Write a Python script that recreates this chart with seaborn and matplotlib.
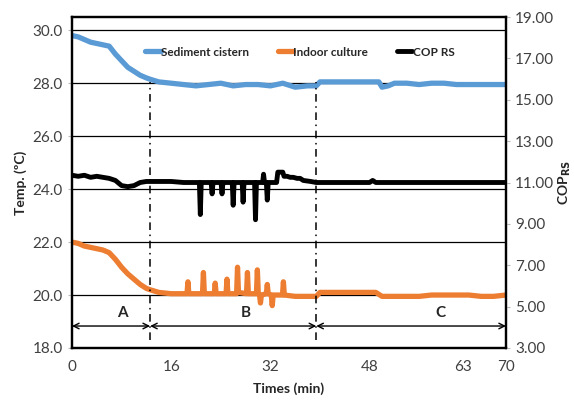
import numpy as np
import pandas as pd
import seaborn as sns
import matplotlib.pyplot as plt

# sediment cistern temperature (left axis)
sed_t = [0, 1, 2, 3, 4, 5, 6, 7, 8, 9, 10, 11, 12, 12.6, 14, 16, 18, 20, 22, 24, 26, 28, 30, 32, 34, 36, 38, 39.4,
         40, 42, 44, 46, 48, 49.5, 50, 51, 52, 54, 56, 58, 60, 62, 64, 66, 68, 70]
sed_v = [29.8, 29.75, 29.65, 29.55, 29.5, 29.45, 29.4, 29.1, 28.85, 28.6, 28.45, 28.3, 28.2, 28.15, 28.05, 28.0, 27.95,
         27.9, 27.95, 28.0, 27.9, 27.95, 27.95, 27.9, 28.0, 27.85, 27.9, 27.9,
         28.05, 28.05, 28.05, 28.05, 28.05, 28.05, 27.85, 27.9, 28.0, 28.0, 27.95, 28.0, 28.0, 27.95, 27.95, 27.95, 27.95, 27.95]

# indoor culture temperature (left axis)
ind_t = [0, 1, 2, 3, 4, 5, 6, 7, 8, 9, 10, 11, 12, 12.6, 14, 16,
         18.55, 18.7, 18.85, 21.05, 21.2, 21.35, 22.95, 23.1, 23.25, 24.85, 25.0, 25.15,
         26.55, 26.7, 26.85, 28.15, 28.3, 28.45, 29.75, 29.9, 30.05, 30.25, 30.4, 30.55,
         31.35, 31.5, 31.65, 32.15, 32.3, 32.45, 33.95, 34.1, 34.25,
         36, 38, 39.4, 40, 42, 46, 49, 50, 52, 54, 56, 58, 60, 62, 64, 66, 68, 70]
ind_v = [22.0, 21.95, 21.85, 21.8, 21.75, 21.7, 21.6, 21.35, 21.05, 20.8, 20.6, 20.4, 20.25, 20.2, 20.1, 20.05,
         20.05, 20.5, 20.05, 20.05, 20.85, 20.05, 20.05, 20.45, 20.05, 20.05, 20.6, 20.05,
         20.05, 21.05, 20.1, 20.05, 20.85, 20.05, 20.05, 20.95, 20.05, 20.0, 19.7, 20.0,
         20.05, 20.4, 20.05, 20.0, 19.6, 20.0, 20.0, 20.5, 20.0,
         19.95, 19.95, 19.95, 20.1, 20.1, 20.1, 20.1, 19.95, 19.95, 19.95, 19.95, 20.0, 20.0, 20.0, 20.0, 19.95, 19.95, 20.0]

# COP RS (right axis)
cop_t = [0, 1, 2, 3, 4, 5, 6, 7, 8, 9, 10, 11, 12, 14, 16, 18,
         20.55, 20.7, 20.85, 22.45, 22.6, 22.75, 24.05, 24.2, 24.35, 25.85, 26.0, 26.15,
         27.45, 27.6, 27.75, 29.45, 29.6, 29.75, 30.75, 30.9, 31.05, 31.35, 31.5, 31.65,
         33.0, 33.2, 34.0, 34.2, 34.7, 35.2, 35.7, 36.3, 36.8, 37.3, 38.5, 39.4,
         42, 46, 48, 48.5, 49, 52, 56, 60, 64, 68, 70]
cop_v = [11.35, 11.3, 11.35, 11.25, 11.3, 11.25, 11.2, 11.1, 10.85, 10.8, 10.85, 11.0, 11.05, 11.05, 11.05, 11.0,
         11.0, 9.45, 11.0, 11.0, 10.45, 11.0, 11.0, 10.45, 11.0, 11.0, 9.9, 11.0,
         11.0, 10.05, 11.0, 11.0, 9.2, 11.0, 11.0, 11.4, 11.0, 11.0, 10.15, 11.0,
         11.0, 11.5, 11.5, 11.3, 11.3, 11.25, 11.25, 11.2, 11.2, 11.1, 11.05, 11.0,
         11.0, 11.0, 11.0, 11.1, 11.0, 11.0, 11.0, 11.0, 11.0, 11.0, 11.0]

x_ticks = [0, 16, 32, 48, 63, 70]
stage_bounds = [0, 12.6, 39.4, 70]
stage_labels = ['A', 'B', 'C']
stage_label_x = [8.2, 28.1, 59.4]

sns.set_style("white")
plt.rcParams['font.family'] = ['Lato', 'DejaVu Sans']

fig = plt.figure(figsize=(5.74, 4.11), dpi=100)
ax = fig.add_axes([0.1254, 0.1533, 0.7561, 0.8053])
ax2 = ax.twinx()

sed = pd.DataFrame({'t': sed_t, 'v': sed_v})
ind = pd.DataFrame({'t': ind_t, 'v': ind_v})
cop = pd.DataFrame({'t': cop_t, 'v': cop_v})

for y in [20, 22, 24, 26, 28, 30]:
    ax.axhline(y, color='black', lw=0.9, zorder=0)

sns.lineplot(data=sed, x='t', y='v', ax=ax, color='#5B9BD5', lw=3.8, sort=False, estimator=None,
             label='Sediment cistern', legend=False, solid_joinstyle='round', solid_capstyle='round')
sns.lineplot(data=ind, x='t', y='v', ax=ax, color='#ED7D31', lw=3.8, sort=False, estimator=None,
             label='Indoor culture', legend=False, solid_joinstyle='round', solid_capstyle='round')
sns.lineplot(data=cop, x='t', y='v', ax=ax2, color='black', lw=3.5, sort=False, estimator=None,
             label='COP RS', legend=False, solid_joinstyle='round', solid_capstyle='round')

# stage boundaries and arrows
ax.vlines(stage_bounds[1:3], 18.3, 28.05, colors='black', linestyles=(0, (5, 3, 1, 3)), lw=1.1)
for i in range(3):
    ax.annotate('', xy=(stage_bounds[i + 1], 18.83), xytext=(stage_bounds[i], 18.83),
                arrowprops=dict(arrowstyle='<->', color='black', lw=1.0, shrinkA=0, shrinkB=0))
    ax.text(stage_label_x[i], 19.33, stage_labels[i],
            ha='center', va='center', fontsize=11, fontweight='bold')

ax.set_xlim(0, 70)
ax.set_ylim(18, 30.5)
ax2.set_ylim(3, 19)
ax.set_xticks(x_ticks)
ax.set_yticks(np.arange(18, 31, 2))
ax.set_yticklabels([f'{v:.1f}' for v in np.arange(18, 31, 2)])
ax2.set_yticks(np.arange(3, 20, 2))
ax2.set_yticklabels([f'{v:.2f}' for v in np.arange(3, 20, 2)])

ax.tick_params(axis='both', labelsize=11, labelcolor='#404040', length=3, color='#bbbbbb')
ax.tick_params(axis='x', length=0, pad=9)
ax2.tick_params(axis='y', labelsize=11, labelcolor='#404040', length=3, color='#bbbbbb')

ax.set_xlabel('Times (min)', fontsize=10, fontweight='bold', labelpad=6)
ax.set_ylabel('Temp. (ºC)', fontsize=10, fontweight='bold', labelpad=4)
ax2.set_ylabel(r'COP$_{\mathbf{RS}}$', fontsize=10, fontweight='bold', labelpad=2)

for a in (ax, ax2):
    for s in a.spines.values():
        s.set_color('black')
        s.set_linewidth(1.6)

h1, l1 = ax.get_legend_handles_labels()
h2, l2 = ax2.get_legend_handles_labels()
ax2.legend(h1 + h2, l1 + l2, loc='center', bbox_to_anchor=(0.525, 0.894), ncol=3, frameon=False,
           handlelength=1.3, handletextpad=0.05, columnspacing=2.4,
           prop={'size': 8.5, 'weight': 'bold'})

plt.savefig('out.png', dpi=100)
